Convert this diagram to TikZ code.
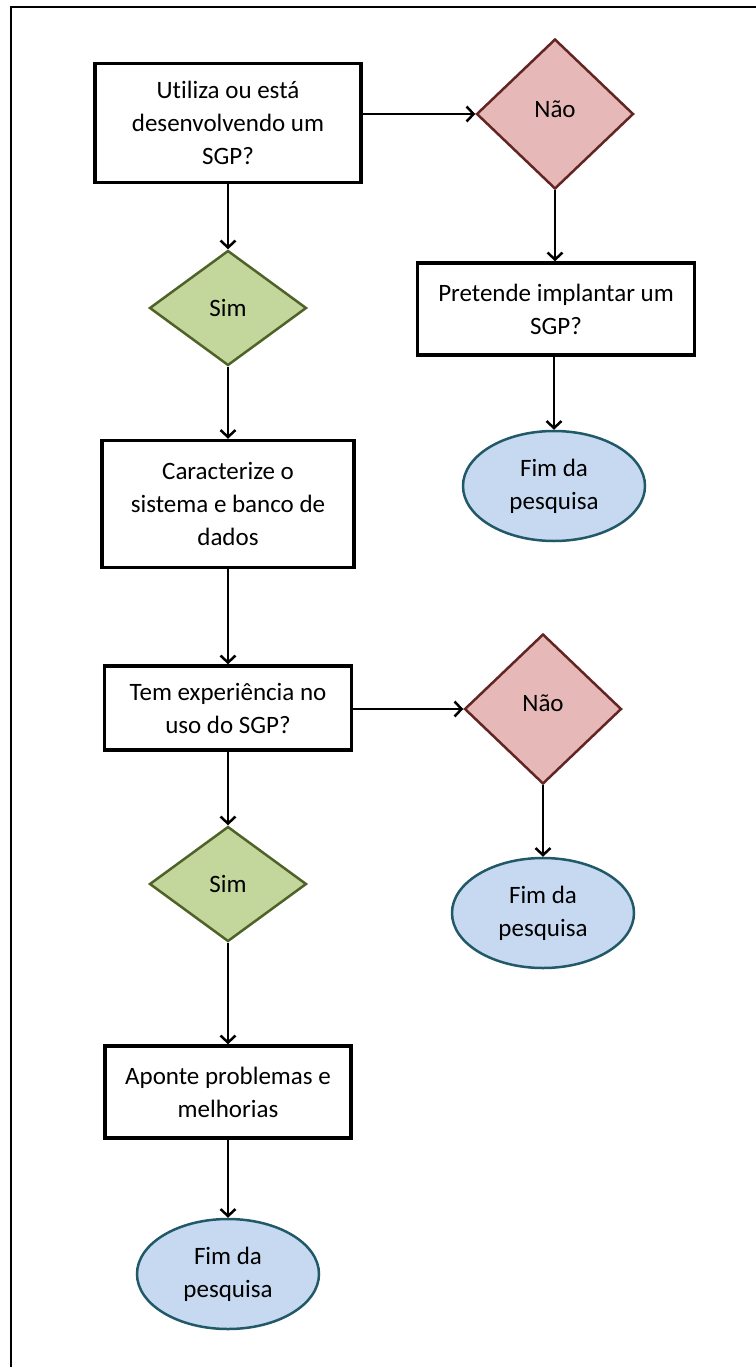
\documentclass[tikz,border=0pt]{standalone}
\usepackage{fontspec}
\setmainfont{Carlito}[Ligatures=NoCommon]
\usetikzlibrary{shapes.geometric,arrows.meta}
\definecolor{naofill}{HTML}{E6B9B8}
\definecolor{naodraw}{HTML}{632523}
\definecolor{simfill}{HTML}{C3D69B}
\definecolor{simdraw}{HTML}{4F6228}
\definecolor{fimfill}{HTML}{C6D9F1}
\definecolor{fimdraw}{HTML}{215968}
\begin{document}
\begin{tikzpicture}[x=1pt,y=-1pt,line width=2.5pt,>={Straight Barb[length=7pt,width=15pt]},
font=\fontsize{25}{33}\selectfont,
qbox/.style={draw,rectangle,line width=3.5pt,align=center,inner sep=0pt},
nao/.style={diamond,draw=naodraw,fill=naofill,line width=2.5pt,inner sep=0pt,minimum width=157,minimum height=150},
sim/.style={diamond,draw=simdraw,fill=simfill,line width=2.5pt,inner sep=0pt,minimum width=157,minimum height=115},
fim/.style={ellipse,draw=fimdraw,fill=fimfill,line width=2.5pt,align=center,inner sep=0pt,minimum width=182,minimum height=110}]

\useasboundingbox (0,0) rectangle (755,1367);
\draw[line width=2pt] (11,1380) -- (11,7) -- (770,7);

\draw (228,123) node[qbox,minimum width=266,minimum height=119] (utiliza) {Utiliza ou está\\desenvolvendo um\\SGP?};
\draw (555,114) node[nao] (nao1) {\raisebox{9pt}{Não}};
\draw (228,308) node[sim] (sim1) {Sim};
\draw (556,309) node[qbox,minimum width=277,minimum height=92] (pretende) {Pretende implantar um\\SGP?};
\draw (554,486) node[fim] (fim1) {Fim da\\pesquisa};
\draw (228,504) node[qbox,minimum width=252,minimum height=127] (caract) {Caracterize o\\sistema e banco de\\dados};
\draw (228,708) node[qbox,minimum width=247,minimum height=84] (experiencia) {Tem experiência no\\uso do SGP?};
\draw (543,709) node[nao] (nao2) {\raisebox{11pt}{Não}};
\draw (543,913) node[fim] (fim2) {Fim da\\pesquisa};
\draw (228,884) node[sim] (sim2) {Sim};
\draw (228,1092) node[qbox,minimum width=246,minimum height=92] (aponte) {Aponte problemas e\\melhorias};
\draw (228,1274) node[fim] (fim3) {Fim da\\pesquisa};

\draw[->] (utiliza.east |- nao1) -- (nao1.west);
\draw[->] (utiliza.south) -- (sim1.north);
\draw[->] (nao1.south) -- (pretende.north -| nao1);
\draw[->] (pretende.south -| fim1) -- (fim1.north);
\draw[->] (sim1.south) -- (caract.north);
\draw[->] (caract.south) -- (experiencia.north);
\draw[->] (experiencia.east |- nao2) -- (nao2.west);
\draw[->] (nao2.south) -- (fim2.north);
\draw[->] (experiencia.south) -- (sim2.north);
\draw[->] (sim2.south) -- (aponte.north);
\draw[->] (aponte.south) -- (fim3.north);
\end{tikzpicture}
\end{document}
